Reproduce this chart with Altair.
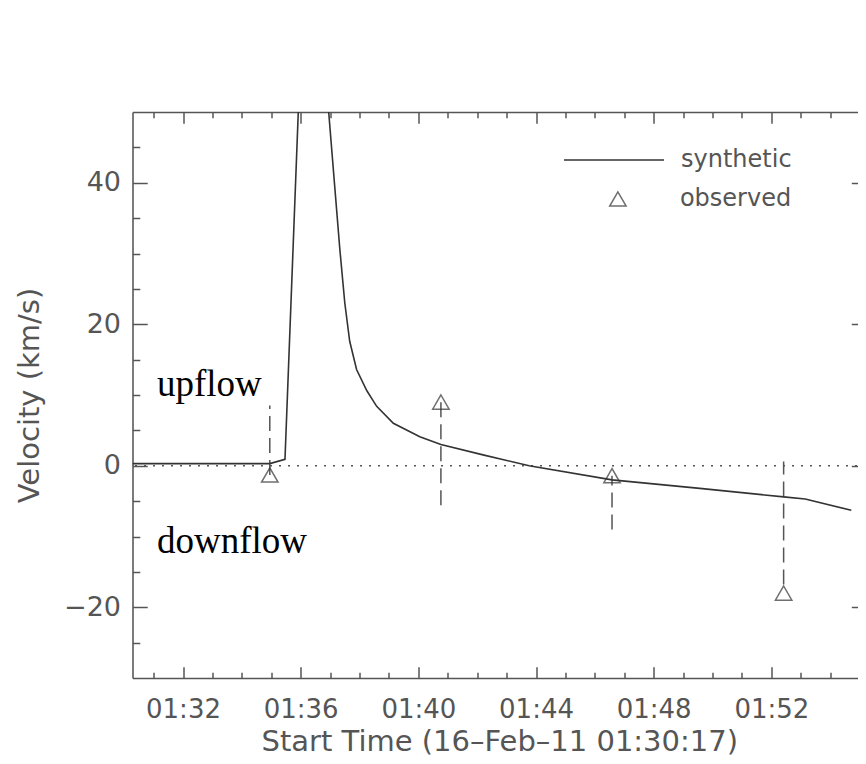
import altair as alt
import pandas as pd

# ---------------- data ----------------
# synthetic velocity curve (time of day, km/s)
syn_time = ["01:30:17", "01:34:57", "01:35:28", "01:36:15", "01:37:10", "01:37:20",
            "01:37:30", "01:37:40", "01:37:54", "01:38:15", "01:38:35", "01:39:09",
            "01:40:03", "01:40:46", "01:42:14", "01:43:46", "01:46:35", "01:49:34",
            "01:52:25", "01:53:09", "01:54:43"]
syn_vel = [0.3, 0.3, 0.9, 86.0, 39.0, 30.5,
           23.0, 17.6, 13.6, 10.6, 8.4, 6.0,
           4.1, 3.0, 1.5, 0.0, -2.0, -3.2,
           -4.4, -4.7, -6.3]

# observed velocities with their dashed ranges
obs_time = ["01:34:57", "01:40:46", "01:46:35", "01:52:25"]
obs_vel = [-1.3, 9.0, -1.4, -18.0]
obs_lo = [-1.3, -5.6, -9.0, -16.8]
obs_hi = [8.5, 9.0, -1.4, 0.6]

# annotations
ann_text = ["upflow", "downflow"]
ann_time = ["01:31:07", "01:31:07"]
ann_vel = [9.9, -12.3]

# axes
x_start, x_end = "01:30:17", "01:55:13"
x_major = [32, 36, 40, 44, 48, 52]          # minutes after 01:00
y_major = [-20, 0, 20, 40]
y_domain = [-30, 50]
x_title = "Start Time (16–Feb–11 01:30:17)"
y_title = "Velocity (km/s)"


def minutes(s):
    h, m, sec = (int(p) for p in s.split(":"))
    return (h - 1) * 60 + m + sec / 60.0


X0, X1 = minutes(x_start), minutes(x_end)
x_minor = [m for m in range(31, 56) if m not in x_major]
y_minor = [v for v in range(-25, 50, 5) if v not in y_major]

W, H = 733.5, 566
AX = "#555555"
FONT = "DejaVu Sans"

xs = alt.Scale(domain=[X0, X1], nice=False, zero=False)
ys = alt.Scale(domain=y_domain, nice=False, zero=False)

syn = pd.DataFrame({"t": [minutes(s) for s in syn_time], "v": syn_vel,
                    "series": ["synthetic"] * len(syn_vel)})
obs = pd.DataFrame({"t": [minutes(s) for s in obs_time], "v": obs_vel,
                    "lo": obs_lo, "hi": obs_hi, "kind": ["observed"] * len(obs_vel)})
ann = pd.DataFrame({"t": [minutes(s) for s in ann_time], "v": ann_vel, "label": ann_text})
zero = pd.DataFrame({"v": [0]})
dummy = pd.DataFrame({"t": [X0], "v": [0]})

# main axes with labels and titles
main_axes = alt.Chart(dummy).mark_point(opacity=0).encode(
    x=alt.X("t:Q", scale=xs, axis=alt.Axis(
        orient="bottom", values=x_major, labelExpr="'01:' + datum.value",
        ticks=False, tickSize=0, domain=True, domainColor=AX, domainWidth=1.5,
        grid=False, labelFont=FONT, labelFontSize=26, labelColor=AX,
        labelBaseline="middle", labelPadding=31, labelFlush=False,
        title=x_title, titleFont=FONT, titleFontSize=29, titleFontWeight="normal",
        titleColor=AX, titleBaseline="middle", titleY=63, titleX=W / 2)),
    y=alt.Y("v:Q", scale=ys, axis=alt.Axis(
        orient="left", values=y_major, ticks=False, tickSize=0, domain=True,
        domainColor=AX, domainWidth=1.5, grid=False, labelFont=FONT,
        labelFontSize=27, labelColor=AX, labelPadding=12, labelBaseline="middle",
        labelFlush=False,
        title=y_title, titleFont=FONT, titleFontSize=29, titleFontWeight="normal",
        titleColor=AX, titleBaseline="middle", titleAngle=270, titleX=-103,
        titleY=H / 2)),
)


def tick_layer(x_orient, y_orient, xvals, yvals, xlen, ylen, x_domain=False):
    return alt.Chart(dummy).mark_point(opacity=0).encode(
        x=alt.X("t:Q", scale=xs, axis=alt.Axis(
            orient=x_orient, offset=-H, values=xvals, labels=False, ticks=True,
            tickSize=xlen, tickColor=AX, tickWidth=1.5, domain=x_domain,
            domainColor=AX, domainWidth=1.5, grid=False, title=None)),
        y=alt.Y("v:Q", scale=ys, axis=alt.Axis(
            orient=y_orient, offset=-W, values=yvals, labels=False, ticks=True,
            tickSize=ylen, tickColor=AX, tickWidth=1.5, domain=False,
            grid=False, title=None)),
    )


ticks_in_bl_major = tick_layer("top", "right", x_major, y_major, 11.3, 14.7)
ticks_in_bl_minor = tick_layer("top", "right", x_minor, y_minor, 5.7, 7.3)
ticks_in_tr_major = tick_layer("bottom", "left", x_major, y_major, 11.3, 14.7, x_domain=True)
ticks_in_tr_minor = tick_layer("bottom", "left", x_minor, y_minor, 5.7, 7.3)

zero_rule = alt.Chart(zero).mark_rule(strokeDash=[2, 7], color=AX, strokeWidth=1.4).encode(
    y=alt.Y("v:Q", scale=ys, axis=None))

bars = alt.Chart(obs).mark_rule(strokeDash=[15, 7], color=AX, strokeWidth=1.5).encode(
    x=alt.X("t:Q", scale=xs, axis=None),
    y=alt.Y("lo:Q", scale=ys, axis=None),
    y2="hi:Q")

line = alt.Chart(syn).mark_line(clip=True, strokeWidth=1.6).encode(
    x=alt.X("t:Q", scale=xs, axis=None),
    y=alt.Y("v:Q", scale=ys, axis=None),
    color=alt.Color("series:N", scale=alt.Scale(domain=["synthetic"], range=["#333333"]),
                    legend=alt.Legend(orient="none", legendX=430.5, legendY=-3, title=None,
                                      symbolType="stroke", symbolSize=10000,
                                      symbolStrokeWidth=1.6, labelFont=FONT,
                                      labelFontSize=24, labelColor=AX, labelOffset=16,
                                      padding=0)))

points = alt.Chart(obs).mark_point(filled=False, size=270, strokeWidth=1.5, color="#333333").encode(
    x=alt.X("t:Q", scale=xs, axis=None),
    y=alt.Y("v:Q", scale=ys, axis=None),
    shape=alt.Shape("kind:N", scale=alt.Scale(domain=["observed"], range=["triangle-up"]),
                    legend=alt.Legend(orient="none", legendX=473.4, legendY=75, title=None,
                                      symbolSize=270, symbolStrokeWidth=1.5,
                                      symbolStrokeColor="#333333",
                                      labelFont=FONT, labelFontSize=24, labelColor=AX,
                                      labelOffset=50, padding=0)))

text = alt.Chart(ann).mark_text(align="left", baseline="alphabetic", font="Liberation Serif",
                                fontSize=37, color="black").encode(
    x=alt.X("t:Q", scale=xs, axis=None),
    y=alt.Y("v:Q", scale=ys, axis=None),
    text="label:N")

chart = alt.layer(
    main_axes, ticks_in_bl_major, ticks_in_bl_minor, ticks_in_tr_major, ticks_in_tr_minor,
    zero_rule, bars, line, points, text
).resolve_axis(x="independent", y="independent").properties(
    width=W, height=H,
    autosize=alt.AutoSizeParams(type="none"),
    padding={"left": 124.5, "top": 104, "right": -8, "bottom": 86},
).configure_view(stroke=None).configure(background="white")

chart.save("out.html", embed_options={"renderer": "svg", "actions": False})
